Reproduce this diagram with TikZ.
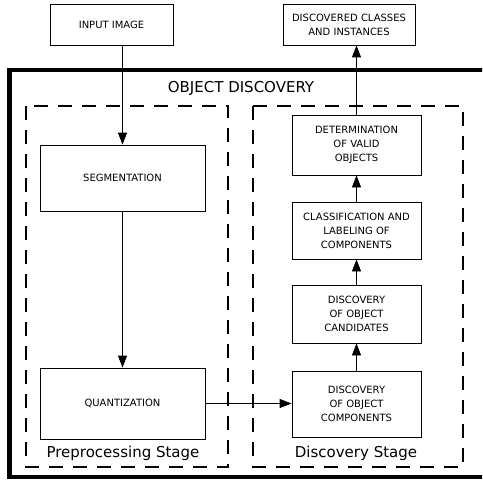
\documentclass[tikz,border=0pt]{standalone}
\usepackage{fontspec}
\setmainfont{DejaVu Sans}
\usetikzlibrary{arrows.meta}
\begin{document}
\begin{tikzpicture}[x=1pt,y=-1pt,
  box/.style={draw=black,line width=0.8pt,align=center,inner sep=0pt,
    font=\fontsize{10}{14}\selectfont},
  arr/.style={line width=0.8pt,-{Triangle[length=12pt,width=9pt]}},
  stagebox/.style={line width=1.3pt,dash pattern=on 14pt off 10pt},
  lbl/.style={inner sep=0pt,font=\fontsize{15}{17}\selectfont}]
\useasboundingbox (0,0) rectangle (482,484);
\begin{scope}
\clip (0,0) rectangle (482,484);
\draw[line width=4.5pt] (9.5,70) rectangle (495,477);
\end{scope}
\node[lbl] (title) at (241,88) {OBJECT DISCOVERY};
\draw[stagebox] (26,106) rectangle (228,467);
\draw[stagebox] (253,106) rectangle (463,467);
\node[lbl] (pre) at (123,453) {Preprocessing Stage};
\node[lbl] (dst) at (356,453) {Discovery Stage};
\node[box,minimum width=123pt,minimum height=41pt] (input) at (111.5,24.5) {INPUT IMAGE};
\node[box,minimum width=132pt,minimum height=41pt] (disc) at (349,24.5) {DISCOVERED CLASSES\\AND INSTANCES};
\node[box,minimum width=165pt,minimum height=66pt] (seg) at (122.5,178) {SEGMENTATION};
\node[box,minimum width=165pt,minimum height=71pt] (quant) at (122.5,403.5) {QUANTIZATION};
\node[box,minimum width=129pt,minimum height=60pt] (det) at (356.5,145) {DETERMINATION\\OF VALID\\OBJECTS};
\node[box,minimum width=129pt,minimum height=57pt] (cls) at (356.5,230.5) {CLASSIFICATION AND\\LABELING OF\\COMPONENTS};
\node[box,minimum width=129pt,minimum height=58pt] (cand) at (356.5,314) {DISCOVERY\\OF OBJECT\\CANDIDATES};
\node[box,minimum width=129pt,minimum height=66pt] (comp) at (356.5,404) {DISCOVERY\\OF OBJECT\\COMPONENTS};
\draw[arr] (seg.north |- input.south) -- (seg.north);
\draw[arr] (seg.south) -- (quant.north);
\draw[arr] (quant.east) -- (quant.east -| comp.west);
\draw[arr] (comp.north) -- (cand.south);
\draw[arr] (cand.north) -- (cls.south);
\draw[arr] (cls.north) -- (det.south);
\draw[arr] (det.north) -- (det.north |- disc.south);
\end{tikzpicture}
\end{document}
